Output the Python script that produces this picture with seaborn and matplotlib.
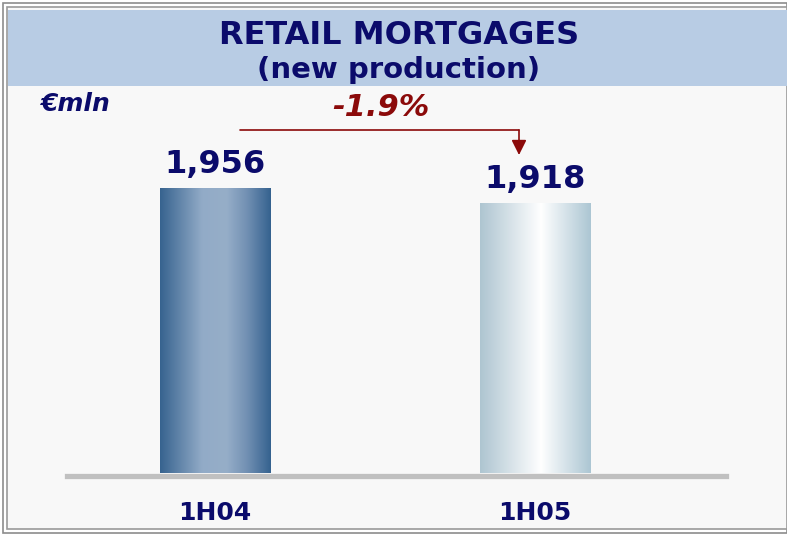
import numpy as np
import pandas as pd
import matplotlib
matplotlib.use("Agg")
import matplotlib.pyplot as plt
import seaborn as sns
from matplotlib.colors import LinearSegmentedColormap
from matplotlib.patches import Rectangle, FancyArrowPatch

categories = ["1H04", "1H05"]
values = [1956, 1918]
value_labels = ["1,956", "1,918"]
change_label = "-1.9%"
unit_label = "€mln"
title_lines = ["RETAIL MORTGAGES", "(new production)"]

sns.set_style("white")
plt.rcParams['font.family'] = ['DejaVu Sans']

W, H = 787, 536
fig = plt.figure(figsize=(W / 100, H / 100), dpi=100)
fig.patch.set_facecolor("white")

def fx(px):
    return px / W

def fy(py):
    return 1 - py / H

# frame / background
fig.patches.append(Rectangle((fx(3), fy(533)), fx(784), 530 / H, transform=fig.transFigure,
                             facecolor="none", edgecolor="#8C8C8C", lw=1.2, zorder=-10))
fig.patches.append(Rectangle((fx(7), fy(529)), fx(780), 522 / H, transform=fig.transFigure,
                             facecolor="#F8F8F8", edgecolor="#9A9A9A", lw=1.2, zorder=-10))
# title band
fig.patches.append(Rectangle((fx(8), fy(86)), fx(779), 76 / H, transform=fig.transFigure,
                             facecolor="#B8CCE4", edgecolor="none", zorder=-9))

navy = "#0B0B6B"
dark_red = "#8B0A0A"

fig.text(fx(399), fy(36), title_lines[0], ha="center", va="center", fontsize=23,
         fontweight="bold", color=navy)
fig.text(fx(399), fy(70), title_lines[1], ha="center", va="center", fontsize=21,
         fontweight="bold", color=navy)
fig.text(fx(40), fy(104), unit_label, ha="left", va="center", fontsize=18,
         fontweight="bold", fontstyle="italic", color=navy)

# axes
ax_left, ax_right, ax_bottom, ax_top = 67, 726, 473, 100
ax = fig.add_axes([fx(ax_left), fy(ax_bottom), fx(ax_right - ax_left), (ax_bottom - ax_top) / H])
ax.set_facecolor("none")

df = pd.DataFrame({"cat": categories, "val": values})
sns.barplot(data=df, x="cat", y="val", ax=ax, width=0.344, color="#7F9BBB",
            edgecolor="none", saturation=1)

y0 = 1234
y1 = 2179
ax.set_xlabel("")
ax.set_ylabel("")
ax.set_yticks([])
ax.set_xticks([])
for s in ["left", "right", "top"]:
    ax.spines[s].set_visible(False)
ax.spines["bottom"].set_color("#C0C0C0")
ax.spines["bottom"].set_linewidth(3.8)
ax.spines["bottom"].set_position(("outward", 1.9))
ax.spines["bottom"].set_zorder(5)

cmaps = [
    LinearSegmentedColormap.from_list("b1", [(0, "#37638F"), (0.38, "#92ABC7"),
                                             (0.6, "#96AEC8"), (0.78, "#7391B4"), (1, "#35628F")]),
    LinearSegmentedColormap.from_list("b2", [(0, "#AEC5D1"), (0.55, "#FFFFFF"), (1, "#ACC6D3")]),
]
grad = np.linspace(0, 1, 256).reshape(1, -1)
for patch, cm in zip(ax.patches, cmaps):
    x = patch.get_x()
    w = patch.get_width()
    top = patch.get_y() + patch.get_height()
    patch.set_visible(False)
    im = ax.imshow(grad, cmap=cm, extent=[x, x + w, y0, top], aspect="auto",
                   origin="lower", zorder=2, interpolation="bilinear")
    clip = Rectangle((x, y0), w, top - y0, transform=ax.transData)
    im.set_clip_path(clip)
ax.set_xlim(-0.4625, 1.597)
ax.set_ylim(y0, y1)

# value labels
for i, (v, lab) in enumerate(zip(values, value_labels)):
    ax.annotate(lab, xy=(i, v), xytext=(0, 10.5), textcoords="offset points",
                ha="center", va="baseline", fontsize=23, fontweight="bold", color=navy)

# category labels
for i, c in enumerate(categories):
    ax.annotate(c, xy=(i, y0), xytext=(0, -34), textcoords="offset points",
                ha="center", va="baseline", fontsize=18, fontweight="bold", color=navy,
                annotation_clip=False)

# change arrow
line_y = 130
fig.add_artist(plt.Line2D([fx(240), fx(519)], [fy(line_y), fy(line_y)],
                          transform=fig.transFigure, color=dark_red, lw=1.2, zorder=6))
arr = FancyArrowPatch((fx(519), fy(line_y)), (fx(519), fy(155)), transform=fig.transFigure,
                      arrowstyle="-|>,head_length=9,head_width=4.5", color=dark_red, lw=1.2,
                      mutation_scale=1, shrinkA=0, shrinkB=0, zorder=6)
fig.add_artist(arr)
fig.text(fx(381), fy(108), change_label, ha="center", va="center", fontsize=22,
         fontweight="bold", fontstyle="italic", color=dark_red)

fig.savefig("out.png", dpi=100)
